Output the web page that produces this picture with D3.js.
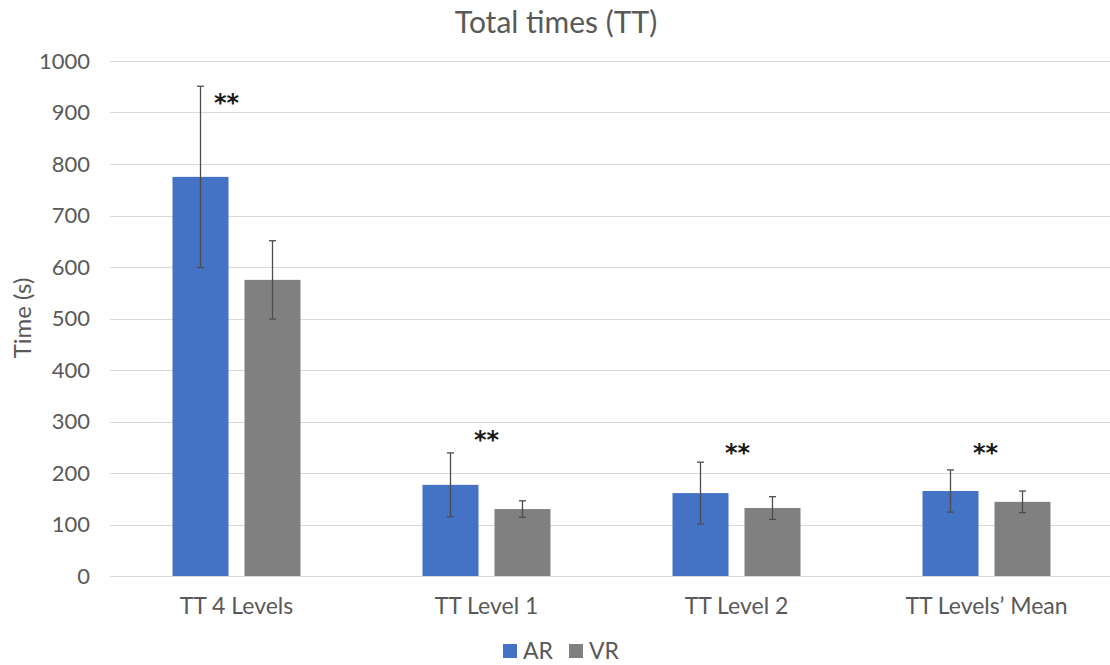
<!DOCTYPE html>
<html>
<head>
<meta charset="utf-8">
<script src="https://cdn.jsdelivr.net/npm/d3@7"></script>
<style>
  html, body { margin: 0; padding: 0; background: #fff; }
  svg { display: block; font-family: Lato, "Open Sans", sans-serif; }
</style>
</head>
<body>
<svg id="chart" width="1110" height="665"></svg>
<script>
// Total times per condition, mean and standard deviation (seconds)
const categories = ["TT 4 Levels", "TT Level 1", "TT Level 2", "TT Levels\u2019 Mean"];
const seriesNames = ["AR", "VR"];
const arMeans = [775, 177, 161, 165];
const arErrors = [176, 62, 60, 41];
const vrMeans = [575, 130, 132, 144];
const vrErrors = [76, 16, 22, 21];
const yTicks = [0, 100, 200, 300, 400, 500, 600, 700, 800, 900, 1000];
const significance = ["**", "**", "**", "**"];

const colors = { AR: "#4472C4", VR: "#808080" };
const textColor = "#595959";

const rows = categories.map((c, i) => ({
  category: c,
  values: [
    { series: "AR", mean: arMeans[i], err: arErrors[i] },
    { series: "VR", mean: vrMeans[i], err: vrErrors[i] }
  ]
}));

const svg = d3.select("#chart");
const plot = { left: 111.5, right: 1111.5, top: 61, bottom: 576 };

const x0 = d3.scaleBand().domain(categories).range([plot.left, plot.right]).padding(0);
const x1 = d3.scaleBand().domain(seriesNames)
  .range([(x0.bandwidth() - 128) / 2, (x0.bandwidth() + 128) / 2])
  .paddingInner(16 / 72).paddingOuter(0);
const y = d3.scaleLinear().domain([0, 1000]).range([plot.bottom, plot.top]);

// Horizontal gridlines
svg.append("g")
  .selectAll("line")
  .data(yTicks)
  .join("line")
  .attr("x1", 110).attr("x2", 1110)
  .attr("y1", d => Math.round(y(d)) + 0.5)
  .attr("y2", d => Math.round(y(d)) + 0.5)
  .attr("stroke", "#d9d9d9").attr("stroke-width", 1);

// Y axis tick labels
const yAxis = d3.axisLeft(y).tickValues(yTicks).tickFormat(d3.format("d")).tickSize(0).tickPadding(0);
const yg = svg.append("g").attr("transform", "translate(90,0)").call(yAxis);
yg.select(".domain").remove();
yg.selectAll("text")
  .attr("fill", textColor)
  .style("font-size", "22px")
  .style("font-family", "Lato, sans-serif");

// X axis category labels
const xAxis = d3.axisBottom(x0).tickSize(0).tickPadding(0);
const xg = svg.append("g").attr("transform", "translate(0,598)").call(xAxis);
xg.select(".domain").remove();
xg.selectAll("text")
  .attr("fill", textColor)
  .style("font-size", "23px")
  .style("font-family", "Lato, sans-serif");

// Bars and error bars
const groups = svg.append("g").selectAll("g")
  .data(rows)
  .join("g")
  .attr("transform", d => `translate(${x0(d.category)},0)`);

groups.selectAll("rect")
  .data(d => d.values)
  .join("rect")
  .attr("x", d => x1(d.series))
  .attr("width", x1.bandwidth())
  .attr("y", d => y(d.mean))
  .attr("height", d => y(0) - y(d.mean))
  .attr("fill", d => colors[d.series]);

const eb = groups.selectAll("g.err")
  .data(d => d.values)
  .join("g")
  .attr("class", "err")
  .attr("stroke", "#4d4d4d")
  .attr("stroke-width", 1.3);

eb.append("line")
  .attr("x1", d => x1(d.series) + x1.bandwidth() / 2)
  .attr("x2", d => x1(d.series) + x1.bandwidth() / 2)
  .attr("y1", d => y(d.mean + d.err))
  .attr("y2", d => y(d.mean - d.err));
eb.append("line")
  .attr("x1", d => x1(d.series) + x1.bandwidth() / 2 - 3.5)
  .attr("x2", d => x1(d.series) + x1.bandwidth() / 2 + 3.5)
  .attr("y1", d => y(d.mean + d.err))
  .attr("y2", d => y(d.mean + d.err));
eb.append("line")
  .attr("x1", d => x1(d.series) + x1.bandwidth() / 2 - 3.5)
  .attr("x2", d => x1(d.series) + x1.bandwidth() / 2 + 3.5)
  .attr("y1", d => y(d.mean - d.err))
  .attr("y2", d => y(d.mean - d.err));

// Significance markers: x offset from group centre and height in data units
const markerPlacement = [
  { dx: -10, value: 925 },
  { dx: 0, value: 270 },
  { dx: 1, value: 245 },
  { dx: -1, value: 245 }
];
svg.append("g").selectAll("text")
  .data(significance)
  .join("text")
  .attr("x", (d, i) => x0(categories[i]) + x0.bandwidth() / 2 + markerPlacement[i].dx)
  .attr("y", (d, i) => y(markerPlacement[i].value) + 11)
  .attr("text-anchor", "middle")
  .attr("fill", "#1a1a1a")
  .style("font-size", "24px")
  .style("font-weight", "bold")
  .style("font-family", "'DejaVu Sans', sans-serif")
  .text(d => d);

// Title
svg.append("text")
  .attr("x", 556).attr("y", 33)
  .attr("text-anchor", "middle")
  .attr("fill", textColor)
  .style("font-size", "30px")
  .text("Total times (TT)");

// Y axis title
svg.append("text")
  .attr("transform", "translate(31,318) rotate(-90)")
  .attr("text-anchor", "middle")
  .attr("fill", textColor)
  .style("font-size", "24px")
  .text("Time (s)");

// Legend
const legend = svg.append("g").attr("transform", "translate(503,644)");
const li = legend.selectAll("g")
  .data(seriesNames)
  .join("g")
  .attr("transform", (d, i) => `translate(${i * 66},0)`);
li.append("rect")
  .attr("width", 14).attr("height", 14)
  .attr("fill", d => colors[d]);
li.append("text")
  .attr("x", 20).attr("y", 15)
  .attr("fill", textColor)
  .style("font-size", "23px")
  .text(d => d);
</script>
</body>
</html>
